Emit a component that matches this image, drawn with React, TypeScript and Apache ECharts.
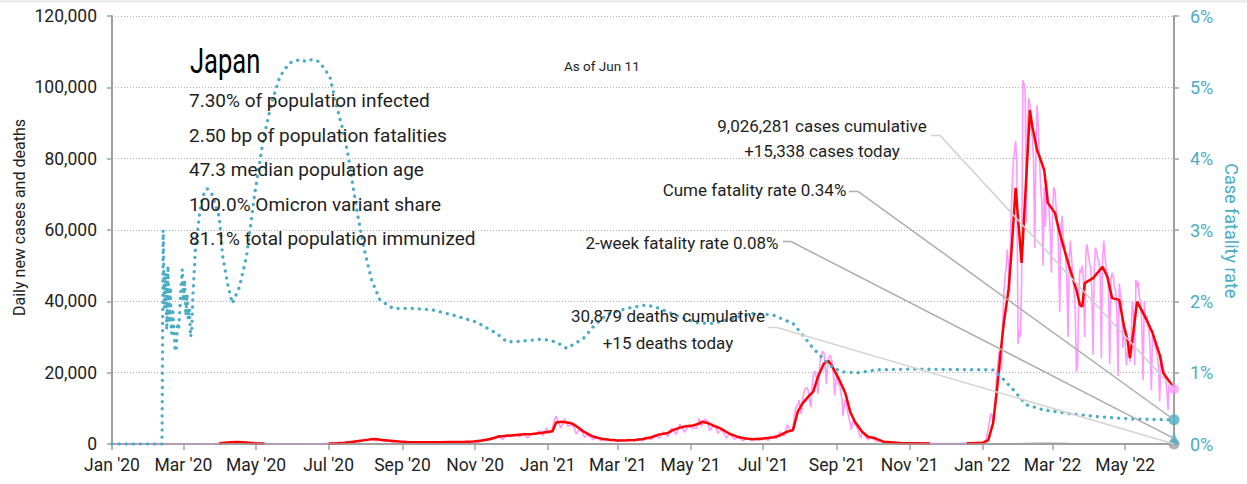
import React, { useEffect, useRef } from "react";
import * as echarts from "echarts";

const FONT = "Roboto, 'Noto Sans', sans-serif";
const MONTHS = ["Jan", "Feb", "Mar", "Apr", "May", "Jun", "Jul", "Aug", "Sep", "Oct", "Nov", "Dec"];

const X_START = "2020-01-01";
const X_END = "2022-06-11";

const CASES_TODAY = 15338;
const DEATHS_TODAY = 15;
const CUME_CFR = 0.34;
const TWO_WEEK_CFR = 0.08;

const TITLE = "Japan";
const AS_OF = "As of Jun 11";
const STATS = [
  "7.30% of population infected",
  "2.50 bp of population fatalities",
  "47.3 median population age",
  "100.0% Omicron variant share",
  "81.1% total population immunized",
];
const NOTE_CASES = ["9,026,281 cases cumulative", "+15,338 cases today"];
const NOTE_CUME = "Cume fatality rate 0.34%";
const NOTE_2WK = "2-week fatality rate 0.08%";
const NOTE_DEATHS = ["30,879 deaths cumulative", "+15 deaths today"];

const LEFT_NAME = "Daily new cases and deaths";
const RIGHT_NAME = "Case fatality rate";

// Raw daily cases (sparse readings) Jan 2020 - Jul 19 2021
const RAW_CASES_A: [string, number][] = [
  ["2020-01-01", 0], ["2020-02-01", 2], ["2020-02-15", 8], ["2020-03-01", 15], ["2020-03-15", 30],
  ["2020-03-25", 70], ["2020-03-31", 200], ["2020-04-03", 350], ["2020-04-07", 350], ["2020-04-10", 700],
  ["2020-04-13", 400], ["2020-04-17", 580], ["2020-04-20", 370], ["2020-04-24", 450], ["2020-04-27", 180],
  ["2020-05-01", 260], ["2020-05-05", 120], ["2020-05-10", 90], ["2020-05-15", 60], ["2020-05-25", 30],
  ["2020-06-05", 40], ["2020-06-15", 70], ["2020-06-25", 100], ["2020-07-01", 130], ["2020-07-05", 200],
  ["2020-07-10", 420], ["2020-07-13", 260], ["2020-07-17", 590], ["2020-07-20", 420], ["2020-07-23", 980],
  ["2020-07-27", 600], ["2020-07-30", 1300], ["2020-08-03", 960], ["2020-08-07", 1600], ["2020-08-10", 900],
  ["2020-08-13", 1200], ["2020-08-17", 690], ["2020-08-21", 1000], ["2020-08-24", 500], ["2020-08-28", 850],
  ["2020-09-01", 600], ["2020-09-05", 600], ["2020-09-08", 400], ["2020-09-12", 650], ["2020-09-15", 450],
  ["2020-09-19", 590], ["2020-09-23", 300], ["2020-09-26", 640], ["2020-10-01", 600], ["2020-10-05", 300],
  ["2020-10-09", 650], ["2020-10-13", 400], ["2020-10-17", 600], ["2020-10-20", 500], ["2020-10-24", 750],
  ["2020-10-27", 500], ["2020-10-31", 850], ["2020-11-04", 600], ["2020-11-07", 1300], ["2020-11-10", 1200],
  ["2020-11-14", 1700], ["2020-11-17", 1700], ["2020-11-21", 2400], ["2020-11-24", 1200], ["2020-11-28", 2700],
  ["2020-12-01", 2000], ["2020-12-05", 2500], ["2020-12-08", 2000], ["2020-12-12", 3000], ["2020-12-15", 1700],
  ["2020-12-19", 2900], ["2020-12-22", 2700], ["2020-12-25", 3800], ["2020-12-28", 2400], ["2020-12-31", 4500],
  ["2021-01-02", 3100], ["2021-01-04", 3300], ["2021-01-06", 6000], ["2021-01-08", 7850], ["2021-01-10", 6100],
  ["2021-01-12", 4500], ["2021-01-15", 7100], ["2021-01-18", 4900], ["2021-01-21", 5600], ["2021-01-23", 4700],
  ["2021-01-25", 2800], ["2021-01-27", 3900], ["2021-01-30", 3300], ["2021-02-01", 1800], ["2021-02-03", 2600],
  ["2021-02-06", 1900], ["2021-02-08", 1200], ["2021-02-10", 1700], ["2021-02-13", 1400], ["2021-02-15", 900],
  ["2021-02-18", 1300], ["2021-02-21", 1100], ["2021-02-23", 900], ["2021-02-25", 1100], ["2021-03-01", 700],
  ["2021-03-04", 1200], ["2021-03-08", 700], ["2021-03-11", 1300], ["2021-03-15", 800], ["2021-03-18", 1500],
  ["2021-03-22", 900], ["2021-03-25", 1900], ["2021-03-29", 1200], ["2021-04-01", 2600], ["2021-04-05", 1600],
  ["2021-04-08", 3400], ["2021-04-12", 2100], ["2021-04-15", 4500], ["2021-04-19", 2700], ["2021-04-22", 5500],
  ["2021-04-26", 3300], ["2021-04-29", 5000], ["2021-05-03", 4400], ["2021-05-06", 4400], ["2021-05-08", 7200],
  ["2021-05-10", 4900], ["2021-05-13", 7000], ["2021-05-15", 6400], ["2021-05-17", 3700], ["2021-05-20", 5200],
  ["2021-05-22", 5000], ["2021-05-24", 3000], ["2021-05-27", 4100], ["2021-05-31", 1800], ["2021-06-03", 2800],
  ["2021-06-07", 1300], ["2021-06-10", 2000], ["2021-06-14", 900], ["2021-06-17", 1800], ["2021-06-21", 1000],
  ["2021-06-24", 1700], ["2021-06-28", 1000], ["2021-07-01", 1800], ["2021-07-05", 1000], ["2021-07-08", 2200],
  ["2021-07-12", 1500], ["2021-07-15", 3400], ["2021-07-19", 2300],
];

// Raw daily cases, one value per day from 2021-07-20 to 2021-09-22
const RAW_CASES_SUMMER_START = "2021-07-20";
const RAW_CASES_SUMMER_2021: number[] = [
  3700, 5400, 5000, 4200, 3900, 3500, 4700, 7600, 9600, 10700, 10800, 12300,
  10200, 8400, 12000, 14200, 15300, 15700, 15800, 14500, 12000, 10300, 15800, 18900, 20400, 20100, 17500,
  14000, 19900, 23900, 25100, 25900, 25500, 22300, 16800, 21600, 24300, 24900, 24200, 22800, 19300, 13600, 17600,
  20000, 16800, 16800, 15000, 12900, 7800, 11000, 12400, 10400, 9000, 7200, 5800, 4000, 6000, 6800, 5400,
  5100, 4400, 3700, 2200, 1700, 3600,
];

// Raw daily cases (sparse) late Sep 2021 - Dec 2021
const RAW_CASES_B: [string, number][] = [
  ["2021-09-25", 2000], ["2021-09-27", 1100], ["2021-09-29", 1900], ["2021-10-02", 1400], ["2021-10-04", 600],
  ["2021-10-07", 1000], ["2021-10-11", 400], ["2021-10-14", 600], ["2021-10-18", 250], ["2021-10-21", 400],
  ["2021-10-25", 150], ["2021-10-28", 300], ["2021-11-05", 180], ["2021-11-15", 100], ["2021-12-01", 120],
  ["2021-12-15", 150], ["2021-12-25", 250], ["2021-12-31", 450],
];

// Raw daily cases, one value per day from 2022-01-01 to 2022-06-11
const RAW_CASES_2022_START = "2022-01-01";
const RAW_CASES_2022: number[] = [
  500, 550, 780, 1260, 2640, 4480, 6210, 8480, 8250, 6440, 6380, 13240, 18860, 22050, 25740, 25630, 20390,
  32200, 41490, 46200, 49850, 54580, 50040, 42620, 62610, 71630, 78930, 81830, 84940, 78000, 28000,
  32000, 30000, 45000, 102000, 101000, 99000, 62000, 90000, 97000, 95000, 88000, 86000, 80000, 55000,
  82000, 95000, 89000, 80000, 72000, 68000, 50000, 72000, 61000, 74000, 70000, 66000, 60000, 48000,
  65000, 72000, 71000, 66000, 62000, 55000, 37000, 60000, 64000, 57000, 56000, 52000, 46000, 30000,
  52000, 57000, 52000, 47000, 43000, 38000, 20300, 22000, 42000, 49000, 48000, 50000, 46000, 30000,
  54000, 56000, 53000,
  51000, 49000, 43000, 25000, 49000, 55000, 54000, 52000, 51000, 47000, 24000, 52000, 57000, 53000,
  49000, 48000, 43000, 22500, 46000, 48000, 47000, 44000, 43000, 37000, 19000, 45000, 42000, 40000,
  27000, 34000,
  29000, 22000, 26000, 28000, 23000, 30000, 40000, 37000, 22000, 46000, 44000, 45500, 41000, 40000,
  33000, 17900, 40000, 35000, 36000, 33000, 32000, 26000, 15000, 32000, 30000, 28000, 26400, 25000,
  21000, 11900, 25000,
  22000, 21000, 19000, 18000, 15000, 9500, 18000, 17100, 16000, 15500, 15338,
];

// 7-day average of cases (null = not drawn)
const AVG_CASES: [string, number | null][] = [
  ["2020-03-31", 230], ["2020-04-05", 380], ["2020-04-10", 520], ["2020-04-15", 560], ["2020-04-20", 470],
  ["2020-04-25", 360], ["2020-04-30", 240], ["2020-05-08", 110], ["2020-05-09", null],
  ["2020-07-01", 120], ["2020-07-08", 200], ["2020-07-15", 330], ["2020-07-22", 650], ["2020-07-29", 950],
  ["2020-08-05", 1300], ["2020-08-09", 1400], ["2020-08-15", 1100], ["2020-08-22", 900], ["2020-08-29", 700],
  ["2020-09-05", 560], ["2020-09-12", 500], ["2020-09-19", 480], ["2020-09-26", 520], ["2020-10-03", 500],
  ["2020-10-10", 560], ["2020-10-17", 540], ["2020-10-24", 600], ["2020-10-31", 700], ["2020-11-07", 1000],
  ["2020-11-14", 1400], ["2020-11-21", 2100], ["2020-11-28", 2300], ["2020-12-05", 2500], ["2020-12-12", 2700],
  ["2020-12-19", 2800], ["2020-12-26", 3100], ["2021-01-02", 3450], ["2021-01-05", 3600], ["2021-01-08", 6000],
  ["2021-01-12", 6250], ["2021-01-16", 6100], ["2021-01-21", 5800], ["2021-01-25", 5000], ["2021-02-01", 3300],
  ["2021-02-08", 2100], ["2021-02-15", 1500], ["2021-02-22", 1200], ["2021-03-01", 1000], ["2021-03-08", 1050],
  ["2021-03-15", 1150], ["2021-03-22", 1400], ["2021-03-29", 1900], ["2021-04-05", 2700], ["2021-04-12", 3100],
  ["2021-04-16", 3900], ["2021-04-22", 4600], ["2021-04-27", 5000], ["2021-05-03", 5200], ["2021-05-08", 5700],
  ["2021-05-11", 6250], ["2021-05-16", 5800], ["2021-05-22", 4900], ["2021-05-26", 4400], ["2021-06-02", 3000],
  ["2021-06-09", 2050], ["2021-06-16", 1550], ["2021-06-23", 1300], ["2021-07-01", 1550], ["2021-07-10", 1900],
  ["2021-07-15", 2400], ["2021-07-21", 3450], ["2021-07-26", 3900], ["2021-07-30", 9060], ["2021-08-03", 11400],
  ["2021-08-09", 13700], ["2021-08-12", 14700], ["2021-08-16", 18900], ["2021-08-21", 22600], ["2021-08-25", 23270],
  ["2021-08-28", 21700], ["2021-09-03", 17900], ["2021-09-08", 14200], ["2021-09-12", 9060], ["2021-09-16", 6250],
  ["2021-09-22", 3450], ["2021-09-27", 2050], ["2021-10-03", 1600], ["2021-10-10", 650], ["2021-10-24", 300],
  ["2021-11-18", 150], ["2021-11-19", null], ["2021-12-19", 180], ["2021-12-28", 300],
  ["2022-01-02", 360], ["2022-01-06", 1100], ["2022-01-10", 5800], ["2022-01-13", 14200], ["2022-01-16", 24500],
  ["2022-01-19", 33800], ["2022-01-23", 43200], ["2022-01-25", 51600], ["2022-01-29", 71800], ["2022-02-03", 50750],
  ["2022-02-10", 93650], ["2022-02-12", 89000], ["2022-02-16", 82400], ["2022-02-18", 80600], ["2022-02-22", 76800],
  ["2022-02-25", 67600], ["2022-03-03", 64800], ["2022-03-07", 59200], ["2022-03-11", 54400], ["2022-03-15", 49700],
  ["2022-03-21", 43200], ["2022-03-24", 39000], ["2022-03-26", 38500], ["2022-03-28", 45100], ["2022-04-04", 46500],
  ["2022-04-12", 49700], ["2022-04-16", 46900], ["2022-04-20", 40900], ["2022-04-26", 40400], ["2022-04-30", 33000],
  ["2022-05-03", 29200], ["2022-05-05", 24100], ["2022-05-07", 29200], ["2022-05-11", 39900], ["2022-05-19", 34800],
  ["2022-05-24", 31100], ["2022-05-30", 25000], ["2022-06-02", 19900], ["2022-06-05", 18500], ["2022-06-11", 15700],
];

// Daily deaths (7-day average)
const DEATHS: [string, number][] = [
  ["2020-01-01", 0], ["2020-03-01", 1], ["2020-04-01", 3], ["2020-04-20", 15], ["2020-05-05", 20],
  ["2020-05-20", 10], ["2020-06-10", 2], ["2020-07-20", 1], ["2020-08-15", 8], ["2020-09-01", 12],
  ["2020-10-01", 6], ["2020-11-01", 6], ["2020-12-01", 25], ["2020-12-20", 45], ["2021-01-15", 70],
  ["2021-02-01", 90], ["2021-02-15", 70], ["2021-03-01", 50], ["2021-03-15", 30], ["2021-04-01", 25],
  ["2021-05-01", 60], ["2021-05-20", 100], ["2021-06-10", 50], ["2021-07-01", 20], ["2021-08-01", 10],
  ["2021-09-01", 50], ["2021-09-15", 55], ["2021-10-01", 30], ["2021-10-15", 15], ["2021-11-01", 3],
  ["2021-12-01", 1], ["2022-01-01", 1], ["2022-01-15", 5], ["2022-02-01", 70], ["2022-02-15", 220],
  ["2022-03-01", 230], ["2022-03-15", 130], ["2022-04-01", 70], ["2022-04-15", 50], ["2022-05-01", 40],
  ["2022-05-15", 35], ["2022-06-01", 25], ["2022-06-11", 15],
];

// Case fatality rate, %
const CFR: [string, number][] = [
  ["2020-01-01", 0], ["2020-02-12", 0], ["2020-02-13", 3.0], ["2020-02-14", 1.9], ["2020-02-15", 2.4],
  ["2020-02-16", 1.6], ["2020-02-17", 2.5], ["2020-02-18", 1.7], ["2020-02-19", 2.2], ["2020-02-20", 1.55],
  ["2020-02-21", 1.9], ["2020-02-22", 1.6], ["2020-02-23", 1.3], ["2020-02-24", 1.35], ["2020-02-25", 1.7],
  ["2020-02-26", 1.6], ["2020-02-27", 1.9], ["2020-02-28", 2.2], ["2020-02-29", 2.45], ["2020-03-01", 2.0],
  ["2020-03-02", 2.3], ["2020-03-03", 1.8], ["2020-03-04", 2.1], ["2020-03-05", 1.75], ["2020-03-06", 1.9],
  ["2020-03-07", 1.5], ["2020-03-08", 1.6], ["2020-03-09", 2.1], ["2020-03-10", 2.4], ["2020-03-11", 2.72],
  ["2020-03-13", 3.0], ["2020-03-15", 3.28], ["2020-03-17", 3.47], ["2020-03-21", 3.58], ["2020-03-25", 3.5],
  ["2020-03-31", 3.19], ["2020-04-03", 2.63], ["2020-04-07", 2.25], ["2020-04-11", 1.97], ["2020-04-17", 2.2],
  ["2020-04-23", 2.63], ["2020-04-30", 3.52], ["2020-05-07", 4.26], ["2020-05-14", 4.78], ["2020-05-21", 5.15],
  ["2020-05-29", 5.34], ["2020-06-07", 5.39], ["2020-06-12", 5.36], ["2020-06-17", 5.39], ["2020-06-23", 5.36],
  ["2020-07-02", 5.15], ["2020-07-07", 4.78], ["2020-07-13", 4.4], ["2020-07-17", 4.08], ["2020-07-21", 3.66],
  ["2020-07-25", 3.24], ["2020-07-31", 2.72], ["2020-08-06", 2.3], ["2020-08-13", 2.02], ["2020-08-24", 1.9],
  ["2020-09-09", 1.9], ["2020-09-26", 1.88], ["2020-10-13", 1.81], ["2020-11-02", 1.71], ["2020-11-19", 1.55],
  ["2020-11-28", 1.43], ["2020-12-08", 1.44], ["2020-12-28", 1.47], ["2021-01-08", 1.43], ["2021-01-17", 1.34],
  ["2021-01-31", 1.48], ["2021-02-08", 1.64], ["2021-02-19", 1.81], ["2021-03-08", 1.9], ["2021-03-25", 1.95],
  ["2021-04-05", 1.9], ["2021-04-22", 1.78], ["2021-05-06", 1.7], ["2021-05-20", 1.69], ["2021-06-05", 1.76],
  ["2021-06-22", 1.83], ["2021-07-09", 1.81], ["2021-07-26", 1.69], ["2021-08-03", 1.53], ["2021-08-12", 1.34],
  ["2021-08-20", 1.2], ["2021-08-29", 1.06], ["2021-09-06", 1.01], ["2021-09-20", 1.0], ["2021-10-04", 1.04],
  ["2021-11-01", 1.05], ["2022-01-10", 1.04], ["2022-01-18", 0.92], ["2022-01-27", 0.76], ["2022-02-07", 0.55],
  ["2022-02-21", 0.48], ["2022-03-13", 0.43], ["2022-04-10", 0.38], ["2022-05-08", 0.35], ["2022-06-11", 0.34],
];

const DAY_MS = 86400000;
const iso = (t: number) => new Date(t).toISOString().slice(0, 10);
const parseDay = (s: string) => Date.parse(s + "T00:00:00Z");

function dayList(start: string, end: string): string[] {
  const out: string[] = [];
  for (let t = parseDay(start); t <= parseDay(end); t += DAY_MS) out.push(iso(t));
  return out;
}
function dailyPairs(start: string, values: number[]): [string, number][] {
  const t0 = parseDay(start);
  return values.map((v, i) => [iso(t0 + i * DAY_MS), v]);
}

const TEAL = "#4bacc6";
const PINK = "#ff99ff";
const RED = "#ff0000";
const GREY = "#a0a0a0";
const AXIS = "#a0a0a0";
const INK = "#1e1e1e";

export default function App() {
  const ref = useRef<HTMLDivElement>(null);

  useEffect(() => {
    if (!ref.current) return;
    const chart = echarts.init(ref.current, undefined, { renderer: "svg" });
    const cats = dayList(X_START, X_END);
    const last = cats.length - 1;

    const rawCases = [
      ...RAW_CASES_A,
      ...dailyPairs(RAW_CASES_SUMMER_START, RAW_CASES_SUMMER_2021),
      ...RAW_CASES_B,
      ...dailyPairs(RAW_CASES_2022_START, RAW_CASES_2022),
    ];

    const isLabelDay = (_i: number, v: string) => v.slice(8) === "01" && Number(v.slice(5, 7)) % 2 === 1;

    const option: any = {
      animation: false,
      backgroundColor: "#ffffff",
      textStyle: { fontFamily: FONT },
      grid: { left: 112, right: 73, top: 16, bottom: 40, containLabel: false },
      xAxis: {
        type: "category",
        data: cats,
        boundaryGap: false,
        axisLine: { show: true, lineStyle: { color: AXIS, width: 2 } },
        axisTick: { show: true, interval: isLabelDay, length: 6, lineStyle: { color: AXIS, width: 1.5 } },
        axisLabel: {
          interval: isLabelDay,
          margin: 12,
          color: INK,
          fontSize: 17.5,
          fontFamily: FONT,
          formatter: (v: string) => `${MONTHS[Number(v.slice(5, 7)) - 1]} '${v.slice(2, 4)}`,
        },
        splitLine: { show: false },
      },
      yAxis: [
        {
          type: "value",
          min: 0,
          max: 120000,
          interval: 20000,
          axisLine: { show: true, lineStyle: { color: AXIS, width: 2 } },
          axisTick: { show: true, length: 5, lineStyle: { color: AXIS, width: 1.5 } },
          axisLabel: {
            margin: 15,
            color: INK,
            fontSize: 17.5,
            fontFamily: FONT,
            formatter: (v: number) => v.toLocaleString("en-US"),
          },
          splitLine: { show: true, lineStyle: { color: "#b0b0b0", width: 1, type: [1, 2] } },
        },
        {
          type: "value",
          position: "right",
          min: 0,
          max: 6,
          interval: 1,
          axisLine: { show: true, lineStyle: { color: AXIS, width: 2 } },
          axisTick: { show: true, length: 5, lineStyle: { color: AXIS, width: 1.5 } },
          axisLabel: { margin: 16, color: TEAL, fontSize: 18, fontFamily: FONT, formatter: "{value}%" },
          splitLine: { show: false },
        },
      ],
      series: [
        {
          name: "Daily cases",
          type: "line",
          data: rawCases,
          showSymbol: false,
          symbol: "none",
          lineStyle: { color: PINK, width: 1.6 },
          z: 2,
        },
        {
          name: "7-day average cases",
          type: "line",
          data: AVG_CASES,
          showSymbol: false,
          symbol: "none",
          connectNulls: false,
          lineStyle: { color: RED, width: 2.5 },
          z: 3,
        },
        {
          name: "Deaths",
          type: "line",
          data: DEATHS,
          showSymbol: false,
          symbol: "none",
          lineStyle: { color: GREY, width: 1.5 },
          z: 4,
        },
        {
          name: "Case fatality rate",
          type: "line",
          yAxisIndex: 1,
          data: CFR,
          showSymbol: false,
          symbol: "none",
          lineStyle: { color: TEAL, width: 3.3, type: [0.1, 7], cap: "round" },
          z: 5,
        },
        {
          name: "Deaths today",
          type: "scatter",
          data: [[cats[last], DEATHS_TODAY]],
          symbol: "circle",
          symbolSize: 11,
          itemStyle: { color: GREY },
          z: 6,
        },
        {
          name: "Cases today",
          type: "scatter",
          data: [[cats[last], CASES_TODAY]],
          symbol: "circle",
          symbolSize: 10,
          itemStyle: { color: PINK },
          z: 7,
        },
        {
          name: "Cume fatality",
          type: "scatter",
          yAxisIndex: 1,
          data: [[cats[last], CUME_CFR]],
          symbol: "circle",
          symbolSize: 11,
          itemStyle: { color: TEAL },
          z: 7,
        },
        {
          name: "2-week fatality",
          type: "scatter",
          yAxisIndex: 1,
          data: [[cats[last], TWO_WEEK_CFR]],
          symbol: "triangle",
          symbolSize: [10, 12],
          itemStyle: { color: TEAL },
          z: 8,
        },
      ],
    };

    chart.setOption(option);

    const px = (yAxisIndex: number, v: number) =>
      chart.convertToPixel({ xAxisIndex: 0, yAxisIndex } as any, [last, v]) as number[];
    const pCases = px(0, CASES_TODAY);
    const pDeaths = px(0, DEATHS_TODAY);
    const pCume = px(1, CUME_CFR);
    const p2wk = px(1, TWO_WEEK_CFR);

    const text = (x: number, y: number, t: string, size: number, extra: any = {}, el: any = {}) => ({
      type: "text",
      x,
      y,
      silent: true,
      z: 20,
      ...el,
      style: {
        text: t,
        fontSize: size,
        fontFamily: FONT,
        fill: INK,
        align: "left",
        verticalAlign: "middle",
        ...extra,
      },
    });
    const leader = (x0: number, y0: number, flat: number, end: number[], color: string) => ({
      type: "polyline",
      silent: true,
      z: 15,
      shape: { points: [[x0, y0], [x0 + flat, y0], [end[0], end[1]]] },
      style: { stroke: color, lineWidth: 1.5, fill: null },
    });

    const statYs = [100, 135, 169.5, 204, 238.5];

    const elements: any[] = [
      { type: "rect", silent: true, z: 0, shape: { x: 0, y: 0, width: 1247, height: 3 }, style: { fill: "#eeeeee" } },
      text(190, 61, TITLE, 35, { fill: "#000000" }, { scaleX: 0.73 }),
      ...STATS.map((s, i) => text(189, statYs[i], s, 19)),
      text(564, 66, AS_OF, 13.5),
      text(822, 126, NOTE_CASES[0], 17, { align: "center" }),
      text(822, 151, NOTE_CASES[1], 17, { align: "center" }),
      text(754.5, 190, NOTE_CUME, 17, { align: "center" }),
      text(682, 243, NOTE_2WK, 17, { align: "center" }),
      text(668, 315.5, NOTE_DEATHS[0], 17, { align: "center" }),
      text(668, 342.5, NOTE_DEATHS[1], 17, { align: "center" }),
      text(19.7, 217.5, LEFT_NAME, 16, { align: "center" }, { rotation: Math.PI / 2 }),
      text(1231.7, 230.8, RIGHT_NAME, 18, { align: "center", fill: TEAL }, { rotation: -Math.PI / 2 }),
      leader(931, 135.5, 9, pCases, "#d0d0d0"),
      leader(849, 191.5, 9, pCume, "#acacac"),
      leader(783, 241.5, 8, p2wk, "#acacac"),
      leader(768, 327.5, 9, pDeaths, "#d4d4d4"),
    ];

    chart.setOption({ graphic: { elements } });

    return () => {
      chart.dispose();
    };
  }, []);

  return (
    <div
      ref={ref}
      style={{ position: "absolute", left: 0, top: 0, width: 1247, height: 484, background: "#ffffff" }}
    />
  );
}
